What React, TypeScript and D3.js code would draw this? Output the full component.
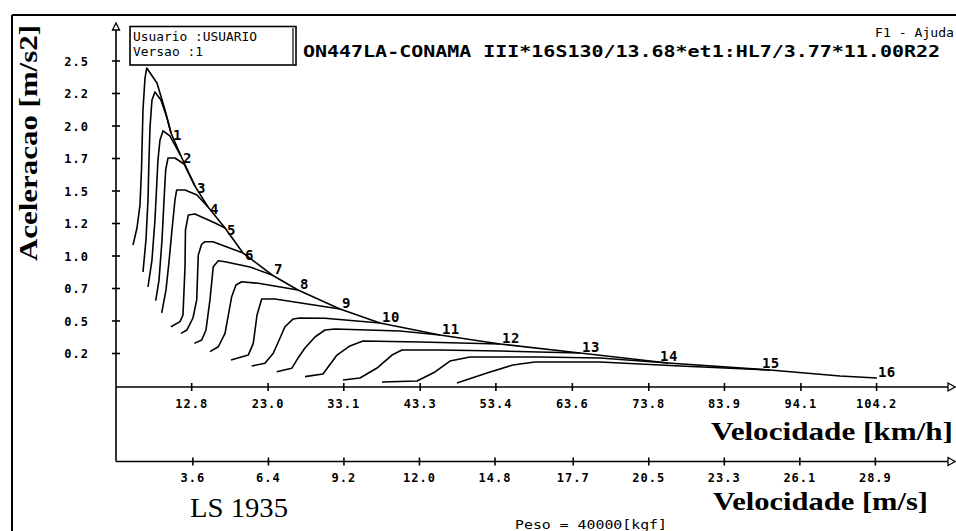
import React from 'react';
import * as d3 from 'd3';

// ---- data (speed km/h, acceleration m/s2) ----
const gear1 = [[4.97,1.085],[5.50,1.215],[5.90,1.392],[6.10,1.662],[6.30,2.123],[6.57,2.369],[6.80,2.446],[8.17,2.331],[9.24,2.123],[10.04,1.946]];
const gear2 = [[6.30,0.877],[6.70,1.123],[6.97,1.431],[7.10,1.738],[7.24,1.992],[7.50,2.200],[7.90,2.262],[8.70,2.200],[9.51,2.062],[10.04,1.946],[11.37,1.769]];
const gear3 = [[6.97,0.762],[7.50,0.969],[7.90,1.277],[8.10,1.508],[8.30,1.738],[8.57,1.892],[8.97,1.962],[9.91,1.923],[11.37,1.769],[13.24,1.538]];
const gear4 = [[8.00,0.656],[8.44,0.815],[8.84,1.123],[9.11,1.431],[9.33,1.662],[9.64,1.754],[10.57,1.754],[11.77,1.708],[13.24,1.538],[14.98,1.377]];
const gear5 = [[8.80,0.562],[9.37,0.738],[9.77,0.954],[10.17,1.200],[10.57,1.431],[10.80,1.508],[11.91,1.508],[13.51,1.469],[14.98,1.377],[17.25,1.215]];
const gear6 = [[10.04,0.456],[11.24,0.495],[11.64,0.546],[11.91,0.918],[11.97,1.200],[12.35,1.315],[13.24,1.323],[15.91,1.254],[17.25,1.215],[19.65,1.023]];
const gear7 = [[11.37,0.405],[12.17,0.431],[12.97,0.523],[13.47,0.662],[13.68,1.008],[14.14,1.092],[14.58,1.110],[15.64,1.110],[19.65,1.023],[23.52,0.854]];
const gear8 = [[13.15,0.328],[14.14,0.354],[14.71,0.431],[15.24,0.662],[15.68,0.918],[16.35,0.964],[17.25,0.956],[20.58,0.915],[23.52,0.854],[26.99,0.738]];
const gear9 = [[15.24,0.264],[16.35,0.302],[17.25,0.405],[18.14,0.687],[18.71,0.777],[19.47,0.802],[21.69,0.790],[26.99,0.738],[32.59,0.592]];
const gear10 = [[18.05,0.200],[20.35,0.238],[21.02,0.328],[21.52,0.546],[22.14,0.669],[23.92,0.669],[32.59,0.592],[37.93,0.485]];
const gear11 = [[20.81,0.154],[22.58,0.175],[23.69,0.252],[25.25,0.456],[26.32,0.515],[27.25,0.523],[30.59,0.521],[37.93,0.485],[45.93,0.392]];
const gear12 = [[24.14,0.110],[26.15,0.136],[26.99,0.215],[27.92,0.292],[29.25,0.377],[30.59,0.431],[31.92,0.438],[40.60,0.423],[45.93,0.392],[53.94,0.323]];
const gear13 = [[27.92,0.072],[30.32,0.092],[32.19,0.238],[33.92,0.308],[35.66,0.346],[43.27,0.338],[53.94,0.323],[64.62,0.254]];
const gear14 = [[32.99,0.046],[35.26,0.062],[37.53,0.138],[39.53,0.238],[40.86,0.277],[45.93,0.277],[53.94,0.269],[64.62,0.254],[76.36,0.177]];
const gear15 = [[38.20,0.031],[42.87,0.038],[45.27,0.108],[47.27,0.192],[49.94,0.223],[59.28,0.223],[67.29,0.215],[76.36,0.177],[89.97,0.123]];
const gear16 = [[48.20,0.023],[52.21,0.100],[55.68,0.162],[58.61,0.185],[67.29,0.185],[77.96,0.154],[89.97,0.123],[99.31,0.077],[104.25,0.062]];
const gears = [gear1,gear2,gear3,gear4,gear5,gear6,gear7,gear8,gear9,gear10,gear11,gear12,gear13,gear14,gear15,gear16];
const gearNames = ['1','2','3','4','5','6','7','8','9','10','11','12','13','14','15','16'];

const yTickValues = [0.25,0.5,0.75,1.0,1.25,1.5,1.75,2.0,2.25,2.5];
const yTickLabels = ['0.2','0.5','0.7','1.0','1.2','1.5','1.7','2.0','2.2','2.5'];
const kmhTicks = [12.8,23.0,33.1,43.3,53.4,63.6,73.8,83.9,94.1,104.2];
const kmhLabels = ['12.8','23.0','33.1','43.3','53.4','63.6','73.8','83.9','94.1','104.2'];
const msTicks = [3.6,6.4,9.2,12.0,14.8,17.7,20.5,23.3,26.1,28.9];
const msLabels = ['3.6','6.4','9.2','12.0','14.8','17.7','20.5','23.3','26.1','28.9'];

const titleText = 'ON447LA-CONAMA III*16S130/13.68*et1:HL7/3.77*11.00R22';
const userText = 'Usuario :USUARIO';
const versionText = 'Versao :1';
const helpText = 'F1 - Ajuda';
const yTitle = 'Aceleracao [m/s2]';
const xTitleKmh = 'Velocidade [km/h]';
const xTitleMs = 'Velocidade [m/s]';
const modelText = 'LS 1935';
const weightText = 'Peso = 40000[kgf]';

const W = 956, H = 531;
const MONO = '"DejaVu Sans Mono", "Liberation Mono", monospace';
const SERIF = '"Liberation Serif", "DejaVu Serif", serif';

export default function App() {
  const x = d3.scaleLinear().domain([2.7, 114]).range([116, 950]);
  const xMs = d3.scaleLinear().domain([2.7 / 3.6, 114 / 3.6]).range([116, 950]);
  const y = d3.scaleLinear().domain([0, 2.75]).range([386, 28.5]);
  const line = d3.line<number[]>().x(d => x(d[0])).y(d => y(d[1]));

  const ax1 = 387;
  const ax2 = 461.5;
  const axisLeft = 116;
  const axisRight = 948;

  const labelPos = (i: number, p: number[]) => {
    const px = x(p[0]);
    const py = y(p[1]);
    if (i < 6) return [px + 2, py + 7];
    if (i < 13) return [px + 2, py - 1];
    if (i === 15) return [px + 1, py - 1];
    return [px - 8, py - 2];
  };

  return (
    <svg width={W} height={H} style={{ position: 'absolute', left: 0, top: 0, background: '#fff' }}>
      <rect x={0} y={0} width={W} height={H} fill="#fff" />
      {/* outer frame */}
      <line x1={12} y1={15} x2={W} y2={15} stroke="#000" strokeWidth={2} />
      <line x1={12} y1={15} x2={12} y2={H} stroke="#000" strokeWidth={2} />

      {/* y axis title */}
      <text transform="translate(37,261) rotate(-90)" fontFamily={SERIF} fontWeight="bold" fontSize={26}
        textLength={236} lengthAdjust="spacingAndGlyphs">{yTitle}</text>

      {/* info box */}
      <rect x={130} y={26.5} width={166} height={38.5} fill="#fff" stroke="#000" strokeWidth={1.6} />
      <line x1={293} y1={28} x2={293} y2={64} stroke="#000" strokeWidth={1.2} />
      <text x={133} y={41} fontFamily={MONO} fontSize={12} textLength={124} lengthAdjust="spacingAndGlyphs">{userText}</text>
      <text x={133} y={56} fontFamily={MONO} fontSize={12} textLength={70} lengthAdjust="spacingAndGlyphs">{versionText}</text>

      {/* title */}
      <text x={303} y={57} fontFamily={MONO} fontWeight="bold" fontSize={15} textLength={637} lengthAdjust="spacingAndGlyphs">{titleText}</text>
      <text x={875} y={37} fontFamily={MONO} fontSize={12} textLength={79} lengthAdjust="spacingAndGlyphs">{helpText}</text>

      {/* y axis */}
      <line x1={axisLeft} y1={30} x2={axisLeft} y2={ax2} stroke="#000" strokeWidth={1.6} />
      <polygon points={`${axisLeft - 3.5},30 ${axisLeft + 3.5},30 ${axisLeft},23`} fill="#fff" stroke="#000" strokeWidth={1.3} />
      {yTickValues.map((v, i) => (
        <g key={'yt' + i}>
          <line x1={axisLeft - 4} x2={axisLeft + 4} y1={y(v)} y2={y(v)} stroke="#000" strokeWidth={1.6} />
          <text x={89} y={y(v) + 4.5} textAnchor="end" fontFamily={MONO} fontWeight="bold" fontSize={12}
            letterSpacing={1}>{yTickLabels[i]}</text>
        </g>
      ))}

      {/* x axis km/h */}
      <line x1={axisLeft} y1={ax1} x2={axisRight} y2={ax1} stroke="#000" strokeWidth={1.6} />
      <polygon points={`${axisRight},${ax1 - 4} ${axisRight},${ax1 + 4} ${axisRight + 7},${ax1}`} fill="#fff" stroke="#000" strokeWidth={1.3} />
      {kmhTicks.map((v, i) => (
        <g key={'xk' + i}>
          <line x1={x(v)} x2={x(v)} y1={ax1 - 4} y2={ax1 + 4} stroke="#000" strokeWidth={1.6} />
          <text x={x(v)} y={408} textAnchor="middle" fontFamily={MONO} fontWeight="bold" fontSize={12}
            letterSpacing={1}>{kmhLabels[i]}</text>
        </g>
      ))}
      <text x={953} y={440} textAnchor="end" fontFamily={SERIF} fontWeight="bold" fontSize={26}
        textLength={242} lengthAdjust="spacingAndGlyphs">{xTitleKmh}</text>

      {/* x axis m/s */}
      <line x1={axisLeft} y1={ax2} x2={axisRight} y2={ax2} stroke="#000" strokeWidth={1.6} />
      <polygon points={`${axisRight},${ax2 - 4} ${axisRight},${ax2 + 4} ${axisRight + 7},${ax2}`} fill="#fff" stroke="#000" strokeWidth={1.3} />
      {msTicks.map((v, i) => (
        <g key={'xm' + i}>
          <line x1={xMs(v)} x2={xMs(v)} y1={ax2 - 4} y2={ax2 + 4} stroke="#000" strokeWidth={1.6} />
          <text x={xMs(v)} y={482} textAnchor="middle" fontFamily={MONO} fontWeight="bold" fontSize={12}
            letterSpacing={1}>{msLabels[i]}</text>
        </g>
      ))}
      <text x={928} y={510} textAnchor="end" fontFamily={SERIF} fontWeight="bold" fontSize={26}
        textLength={215} lengthAdjust="spacingAndGlyphs">{xTitleMs}</text>

      <text x={190} y={517} fontFamily={SERIF} fontSize={27} textLength={98} lengthAdjust="spacingAndGlyphs">{modelText}</text>
      <text x={515} y={529} fontFamily={MONO} fontSize={12} textLength={152} lengthAdjust="spacingAndGlyphs">{weightText}</text>

      {/* gear curves */}
      {gears.map((g, i) => (
        <path key={'g' + i} d={line(g as any) || ''} fill="none" stroke="#000" strokeWidth={1.6} strokeLinejoin="round" />
      ))}
      {gears.map((g, i) => {
        const [lx, ly] = labelPos(i, g[g.length - 1]);
        return (
          <text key={'gl' + i} x={lx} y={ly} fontFamily={MONO} fontWeight="bold" fontSize={14}
            letterSpacing={0.5}>{gearNames[i]}</text>
        );
      })}
    </svg>
  );
}
